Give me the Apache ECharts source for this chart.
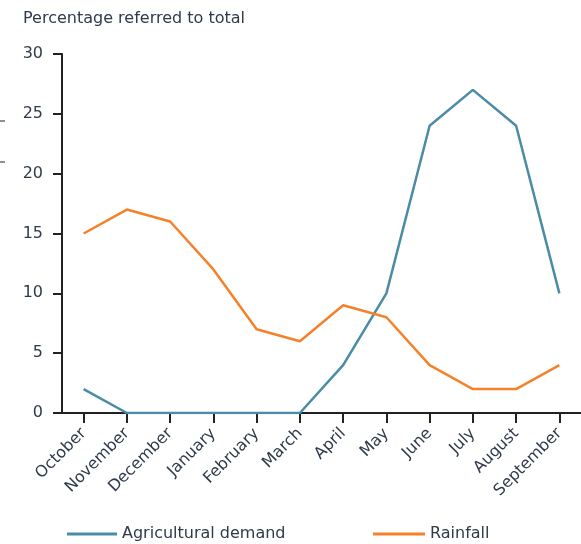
<!DOCTYPE html>
<html>
<head>
<meta charset="utf-8">
<script src="https://cdn.jsdelivr.net/npm/echarts@6/dist/echarts.min.js"></script>
<style>
html, body { margin: 0; padding: 0; background: #fff; }
#chart { width: 581px; height: 544px; }
</style>
</head>
<body>
<div id="chart"></div>
<script>
const months = ['October', 'November', 'December', 'January', 'February', 'March',
    'April', 'May', 'June', 'July', 'August', 'September']
const agricultural = [2, 0, 0, 0, 0, 0, 4, 10, 24, 27, 24, 10]
const rainfall = [15, 17, 16, 12, 7, 6, 9, 8, 4, 2, 2, 4]
const yTicks = [0, 5, 10, 15, 20, 25, 30]

const font = 'DejaVu Sans, Verdana, sans-serif'
const textColor = '#2f3a4a'
const legendText = { fontFamily: font, fontSize: 16, color: textColor }

let chart = echarts.init(document.getElementById('chart'))
let option = {
    animation: false,
    title: {
        text: 'Percentage referred to total',
        left: 18,
        top: 6,
        textStyle: { fontFamily: font, fontSize: 16, fontWeight: 'normal', color: textColor }
    },
    legend: [
        {
            top: 521,
            left: 62,
            itemWidth: 50,
            itemHeight: 3,
            itemGap: 0,
            icon: 'rect',
            textStyle: legendText,
            data: ['Agricultural demand']
        },
        {
            top: 521,
            left: 368,
            itemWidth: 52,
            itemHeight: 3,
            itemGap: 0,
            icon: 'rect',
            textStyle: legendText,
            data: ['Rainfall']
        }
    ],
    grid: { left: 62, right: -2, top: 54, bottom: 131 },
    xAxis: {
        type: 'category',
        data: months,
        boundaryGap: true,
        axisLine: { lineStyle: { color: '#222', width: 2 } },
        axisTick: { show: true, alignWithLabel: true, length: 10, lineStyle: { color: '#222', width: 2 } },
        axisLabel: { rotate: 45, interval: 0, fontFamily: font, fontSize: 16, color: textColor, margin: 18 }
    },
    yAxis: {
        type: 'value',
        min: yTicks[0],
        max: yTicks[yTicks.length - 1],
        interval: 5,
        splitLine: { show: false },
        axisLine: { show: true, lineStyle: { color: '#222', width: 2 } },
        axisTick: { show: true, length: 9, lineStyle: { color: '#222', width: 2 } },
        axisLabel: { fontFamily: font, fontSize: 16, color: textColor, margin: 19 }
    },
    series: [
        {
            name: 'Agricultural demand',
            type: 'line',
            data: agricultural,
            symbol: 'none',
            color: '#4a8ca6',
            lineStyle: { width: 2.5, color: '#4a8ca6' }
        },
        {
            name: 'Rainfall',
            type: 'line',
            data: rainfall,
            symbol: 'none',
            color: '#f5822a',
            lineStyle: { width: 2.5, color: '#f5822a' }
        }
    ],
    graphic: [
        { type: 'line', shape: { x1: 0, y1: 121, x2: 5, y2: 121 }, style: { stroke: '#222', lineWidth: 1 } },
        { type: 'line', shape: { x1: 0, y1: 162, x2: 5, y2: 162 }, style: { stroke: '#222', lineWidth: 1 } }
    ]
}
chart.setOption(option)
</script>
</body>
</html>
